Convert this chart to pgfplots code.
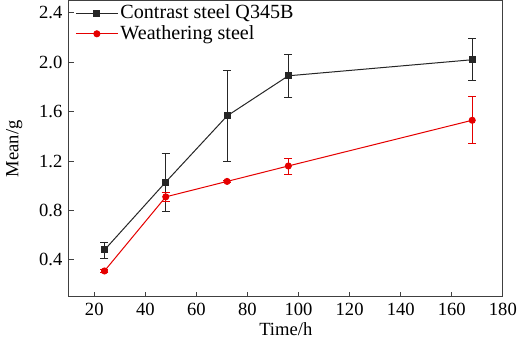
\documentclass[border=0pt]{standalone}
\usepackage{pgfplots}
\pgfplotsset{compat=1.18}
\usepackage{fontspec}
\setmainfont{Liberation Serif}
\begin{document}
\fontsize{18.5}{20}\selectfont
\begin{tikzpicture}
\begin{axis}[
  scale only axis,
  width=432pt, height=295pt,
  xmin=10, xmax=180, ymin=0.1, ymax=2.5,
  xtick={20,40,...,180},
  ytick={0.4,0.8,1.2,1.6,2.0,2.4},
  yticklabel style={/pgf/number format/.cd,fixed,fixed zerofill,precision=1},
  /pgf/number format/assume math mode=true,
  tick align=inside,
  xtick pos=bottom, ytick pos=left,
  major tick length=5pt,
  axis line style={line width=0.9pt, black!75},
  tick style={line width=0.8pt, black!75},
  xlabel={Time/h}, ylabel={Mean/g},
  xlabel style={yshift=6pt},
  ylabel style={yshift=4pt},
  legend style={draw=none, fill=none, at={(0.01,1.0)}, anchor=north west, font=\fontsize{20}{21}\selectfont, row sep=0pt, inner sep=2pt},
  legend cell align=left,
  legend image code/.code={
    \draw[#1, mark repeat=2, mark phase=2] plot coordinates {(0pt,0pt) (21pt,0pt) (42pt,0pt)};
  },
]
\addplot[black!85, line width=1pt, mark=square*, mark size=3pt,
  error bars/.cd, y dir=both, y explicit, error bar style={line width=0.8pt}, error mark options={rotate=90, mark size=4pt, line width=0.8pt}]
  coordinates {
  (24,0.48) +- (0,0.065)
  (48,1.03) +- (0,0.235)
  (72,1.565) +- (0,0.365)
  (96,1.89) +- (0,0.175)
  (168,2.02) +- (0,0.17)
  };
\addlegendentry{Contrast steel Q345B}
\addplot[red!90!black, line width=1pt, mark=*, mark size=3pt,
  error bars/.cd, y dir=both, y explicit, error bar style={line width=0.8pt}, error mark options={rotate=90, mark size=4pt, line width=0.8pt}]
  coordinates {
  (24,0.31) +- (0,0.01)
  (48,0.91) +- (0,0.04)
  (72,1.035) +- (0,0.01)
  (96,1.16) +- (0,0.065)
  (168,1.53) +- (0,0.19)
  };
\addlegendentry{Weathering steel}
\end{axis}
\end{tikzpicture}
\end{document}
